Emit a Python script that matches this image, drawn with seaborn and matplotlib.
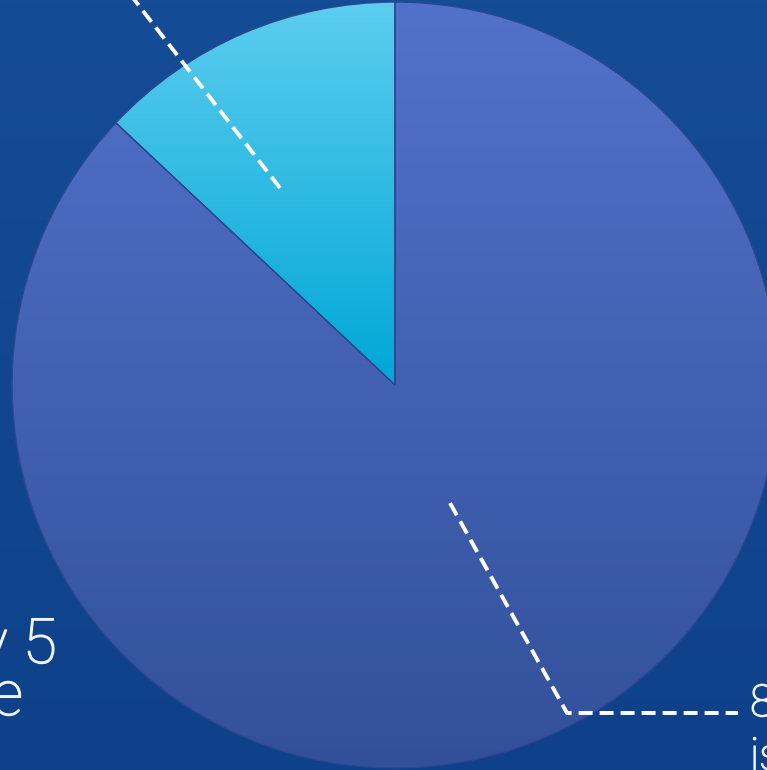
import numpy as np
import matplotlib
matplotlib.use("Agg")
import matplotlib.pyplot as plt
import matplotlib.patheffects as pe
import seaborn as sns
from matplotlib.colors import LinearSegmentedColormap

# pie data (share in %)
segments = ["minority", "majority"]
shares = [13, 87]
top_colors = ["#5ccdef", "#5272ca"]
bottom_colors = ["#00a7d6", "#32509a"]

# slide text that is cut off by the crop
left_lines = ["y 5", "e"]
right_lines = ["8", "is"]

sns.set_theme(style="white")
plt.rcParams["font.family"] = ["Roboto", "DejaVu Sans"]

fig = plt.figure(figsize=(7.67, 7.70), dpi=100)
ax = fig.add_axes([0, 0, 1, 1])

# slide background
bg = LinearSegmentedColormap.from_list("bg", ["#0e4189", "#154c96"])
ax.imshow(np.linspace(0, 1, 256).reshape(-1, 1), cmap=bg, aspect="auto",
          extent=(0, 767, 0, 770), origin="lower", zorder=0)

center = (395, 385)
radius = 383
wedges, _ = ax.pie(shares, center=center, radius=radius, startangle=90,
                   counterclock=True,
                   colors=sns.color_palette(bottom_colors),
                   wedgeprops=dict(edgecolor="#2c4690", linewidth=1.0))

# vertical gradient inside each wedge
for w, c_top, c_bot in zip(wedges, top_colors, bottom_colors):
    ext = w.get_path().get_extents()
    cmap = LinearSegmentedColormap.from_list("g", [c_bot, c_top])
    img = ax.imshow(np.linspace(0, 1, 256).reshape(-1, 1), cmap=cmap,
                    aspect="auto", origin="lower",
                    extent=(ext.x0, ext.x1, ext.y0, ext.y1), zorder=2)
    img.set_clip_path(w)
    w.set_facecolor("none")
    w.set_zorder(3)

# leader lines
dash = dict(color="white", lw=2.8, linestyle=(0, (3.6, 1.8)), zorder=4,
            dash_capstyle="butt")
ax.plot([280, 133], [582, 772], **dash)
ax.plot([450, 567, 738], [267, 57, 57], **dash)

thicken = [pe.withStroke(linewidth=0.9, foreground="#eef3ff")]
txt = dict(color="#eef3ff", fontweight="light", zorder=5, path_effects=thicken)
ax.text(750, 66, right_lines[0], fontsize=32, ha="left", va="center", **txt)
ax.text(750, 34, right_lines[1], fontsize=32, ha="left", va="top", **txt)
ax.text(57, 107, left_lines[0], fontsize=45, ha="right", va="baseline", **txt)
ax.text(23, 55, left_lines[1], fontsize=45, ha="right", va="baseline", **txt)

ax.set_xlim(0, 767)
ax.set_ylim(0, 770)
ax.set_aspect("equal", adjustable="box")
ax.axis("off")

fig.savefig("out.png", dpi=100, facecolor="#15488f")
